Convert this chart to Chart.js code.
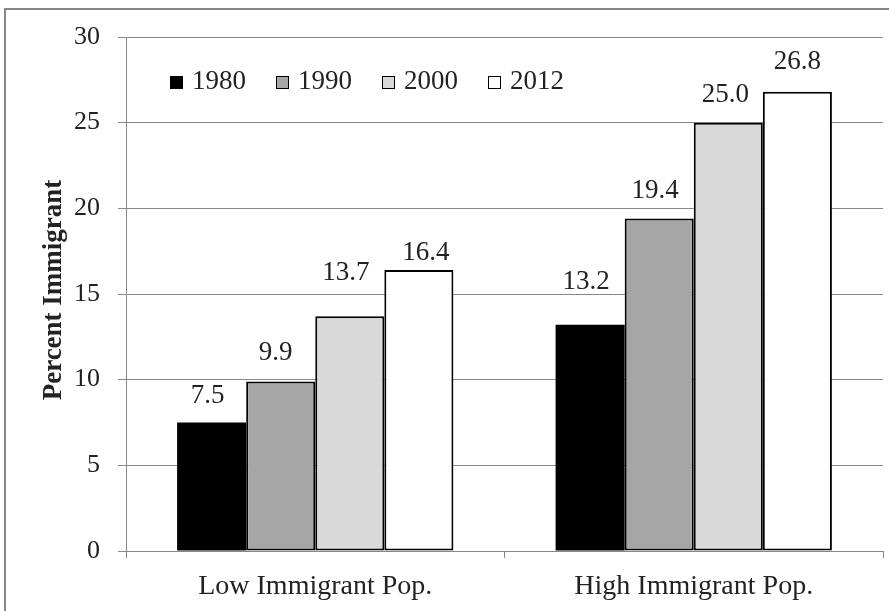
<!DOCTYPE html>
<html>
<head>
<meta charset="utf-8">
<script src="https://cdn.jsdelivr.net/npm/chart.js@4/dist/chart.umd.min.js"></script>
<style>
  html, body { margin: 0; padding: 0; background: #ffffff; }
  #wrap { position: relative; width: 889px; height: 611px; }
</style>
</head>
<body>
<div id="wrap"><canvas id="chart" width="889" height="611"></canvas></div>
<script>
// Share of population that is foreign-born, by area type and census year
const categories = ['Low Immigrant Pop.', 'High Immigrant Pop.'];
const years = ['1980', '1990', '2000', '2012'];
const values1980 = [7.5, 13.2];
const values1990 = [9.9, 19.4];
const values2000 = [13.7, 25.0];
const values2012 = [16.4, 26.8];
const yTicks = [0, 5, 10, 15, 20, 25, 30];
const yTitle = 'Percent Immigrant';

const FONT = "'Liberation Serif', 'DejaVu Serif', serif";
const TEXT = '#222222';
const fills = ['#000000', '#a6a6a6', '#d9d9d9', '#ffffff'];
const seriesValues = [values1980, values1990, values2000, values2012];

// hand-placed nudges for value labels [series][category] -> [dx, dy from bar top]
const labelNudge = [
  [[-4, -27], [-4, -43]],
  [[-5, -28], [-4, -28]],
  [[-4, -43], [-3, -28]],
  [[7, -17], [0, -30]]
];

const datasets = years.map((y, i) => ({
  label: y,
  data: seriesValues[i],
  backgroundColor: fills[i],
  borderColor: '#000000',
  borderWidth: i === 0 ? 0 : 2,
  borderSkipped: false,
  barPercentage: 1.0,
  categoryPercentage: 0.73
}));

// value labels above each bar
const valueLabels = {
  id: 'valueLabels',
  afterDatasetsDraw(chart) {
    const ctx = chart.ctx;
    ctx.save();
    ctx.font = "27px " + FONT;
    ctx.fillStyle = TEXT;
    ctx.textAlign = 'center';
    ctx.textBaseline = 'middle';
    chart.data.datasets.forEach((ds, di) => {
      chart.getDatasetMeta(di).data.forEach((bar, j) => {
        const [dx, dy] = labelNudge[di][j];
        ctx.fillText(ds.data[j].toFixed(1), bar.x + dx, bar.y + dy);
      });
    });
    ctx.restore();
  }
};

// legend row inside the plot, y title and frame
const decorations = {
  id: 'decorations',
  afterDraw(chart) {
    const ctx = chart.ctx;
    const area = chart.chartArea;
    ctx.save();
    // frame (left and top edges)
    ctx.strokeStyle = '#878787';
    ctx.lineWidth = 2;
    ctx.beginPath();
    ctx.moveTo(5, 611);
    ctx.lineTo(5, 9);
    ctx.lineTo(889, 9);
    ctx.stroke();

    // y axis title
    ctx.save();
    ctx.translate(54, 290);
    ctx.rotate(-Math.PI / 2);
    ctx.font = "bold 27px " + FONT;
    ctx.fillStyle = TEXT;
    ctx.textAlign = 'center';
    ctx.textBaseline = 'middle';
    ctx.fillText(yTitle, 0, 0);
    ctx.restore();

    // legend
    const startX = area.left + 44;
    const boxTop = area.top + 39;
    const step = 106;
    ctx.font = "27px " + FONT;
    ctx.textAlign = 'left';
    ctx.textBaseline = 'middle';
    years.forEach((y, i) => {
      const x = startX + i * step;
      ctx.fillStyle = fills[i];
      ctx.fillRect(x, boxTop, 13, 13);
      ctx.strokeStyle = '#000000';
      ctx.lineWidth = 1;
      ctx.strokeRect(x + 0.5, boxTop + 0.5, 12, 12);
      ctx.fillStyle = TEXT;
      ctx.fillText(y, x + 22, boxTop + 6);
    });
    ctx.restore();
  }
};

new Chart(document.getElementById('chart'), {
  type: 'bar',
  data: { labels: categories, datasets },
  options: {
    responsive: false,
    animation: false,
    devicePixelRatio: 1,
    layout: { padding: { top: 37, right: 6, left: 0, bottom: 0 } },
    plugins: {
      legend: { display: false },
      tooltip: { enabled: false }
    },
    scales: {
      x: {
        offset: true,
        grid: {
          offset: true,
          drawOnChartArea: false,
          color: '#888888',
          tickLength: 7,
          lineWidth: 1
        },
        border: { color: '#888888', width: 1 },
        ticks: {
          color: TEXT,
          padding: 12,
          font: { family: FONT, size: 28 }
        },
        afterFit(scale) { scale.height = 60; }
      },
      y: {
        min: 0,
        max: 30,
        afterBuildTicks(scale) { scale.ticks = yTicks.map(v => ({ value: v })); },
        grid: { color: '#888888', lineWidth: 1, tickLength: 8 },
        border: { color: '#888888', width: 1 },
        ticks: {
          color: TEXT,
          padding: 18,
          font: { family: FONT, size: 26 }
        },
        afterFit(scale) { scale.width = 126; }
      }
    }
  },
  plugins: [valueLabels, decorations]
});
</script>
</body>
</html>
